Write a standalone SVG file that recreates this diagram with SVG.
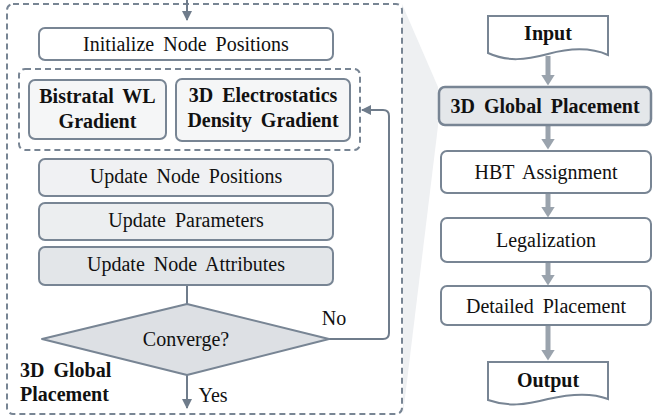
<svg xmlns="http://www.w3.org/2000/svg" width="653" height="420" viewBox="0 0 653 420">
<defs>
<style>
text{font-family:'Liberation Serif','Times New Roman',serif;font-size:20px;fill:#111;text-anchor:middle;word-spacing:4px}
.b{font-weight:bold}
.box{stroke:#788594;stroke-width:2}
.dash{fill:none;stroke:#788594;stroke-width:2;stroke-dasharray:6 4}
.thin{fill:none;stroke:#6f7c8b;stroke-width:2}
.thick{fill:none;stroke:#9aa3ad;stroke-width:5}
</style>
<marker id="ah" viewBox="0 0 10 10" refX="9" refY="5" markerWidth="5" markerHeight="5" orient="auto" markerUnits="strokeWidth"><path d="M0,0 L10,5 L0,10 z" fill="#6f7c8b"/></marker>
<marker id="ahb" viewBox="0 0 11 14" refX="0.5" refY="7" markerWidth="11" markerHeight="14" orient="auto" markerUnits="userSpaceOnUse"><path d="M0,0 L11,7 L0,14 z" fill="#9aa3ad"/></marker>
</defs>
<polygon points="402,4 438,87 438,126 403,414" fill="#eef0f2"/>
<g id="outer-box"><rect class="dash" x="7" y="4" width="395" height="410" rx="6"/></g>
<g id="gradient-group"><rect class="dash" x="19" y="69" width="341" height="81" rx="6"/></g>
<g id="connectors">
<line class="thin" x1="187" y1="0" x2="187" y2="20" marker-end="url(#ah)"/>
<line class="thin" x1="187" y1="285" x2="187" y2="304"/>
<line class="thin" x1="187" y1="375" x2="187" y2="408" marker-end="url(#ah)"/>
<path class="thin" d="M329,339 H383 Q389,339 389,333 V116 Q389,110 383,110 H362" marker-end="url(#ah)"/>
<line class="thick" x1="548" y1="56" x2="548" y2="75" marker-end="url(#ahb)"/>
<line class="thick" x1="548" y1="126" x2="548" y2="139" marker-end="url(#ahb)"/>
<line class="thick" x1="548" y1="193" x2="548" y2="207" marker-end="url(#ahb)"/>
<line class="thick" x1="548" y1="262" x2="548" y2="275" marker-end="url(#ahb)"/>
<line class="thick" x1="548" y1="325" x2="548" y2="350" marker-end="url(#ahb)"/>
</g>
<g id="init"><rect class="box" x="39" y="28" width="294" height="32" rx="6" fill="#ffffff"/><text x="186" y="51">Initialize Node Positions</text></g>
<g id="bistratal"><rect class="box" x="29" y="80" width="137" height="59" rx="6" fill="#f5f6f7"/><text class="b" x="97.5" y="103">Bistratal WL</text><text class="b" x="97.5" y="128">Gradient</text></g>
<g id="electro"><rect class="box" x="176" y="79" width="174" height="62" rx="6" fill="#f5f6f7"/><text class="b" x="263" y="102">3D Electrostatics</text><text class="b" x="263" y="127">Density Gradient</text></g>
<g id="upd-pos"><rect class="box" x="39" y="159" width="294" height="37" rx="6" fill="#f0f1f3"/><text x="186" y="183">Update Node Positions</text></g>
<g id="upd-par"><rect class="box" x="39" y="203" width="294" height="37" rx="6" fill="#eceef0"/><text x="186" y="227">Update Parameters</text></g>
<g id="upd-attr"><rect class="box" x="39" y="247" width="294" height="38" rx="6" fill="#e3e6e9"/><text x="186" y="271">Update Node Attributes</text></g>
<g id="converge"><polygon class="box" points="42,339 187,304 329,339 187,375" fill="#dde0e4" stroke-linejoin="round"/><text x="186" y="346">Converge?</text></g>
<text x="334" y="325">No</text>
<text x="213" y="402">Yes</text>
<text class="b" x="20" y="377" style="text-anchor:start">3D Global</text>
<text class="b" x="20" y="401" style="text-anchor:start">Placement</text>
<g id="input"><path class="box" d="M488,16 H608 V55 C590,47 570,48 548,54 C525,60 508,62 488,53 Z" fill="#ffffff"/><text class="b" x="548" y="40">Input</text></g>
<g id="gp"><rect x="439" y="87" width="212" height="38" rx="6" fill="#e4e7ea" stroke="#788594" stroke-width="2.5"/><text class="b" x="545" y="113">3D Global Placement</text></g>
<g id="hbt"><rect class="box" x="441" y="151" width="210" height="42" rx="6" fill="#ffffff"/><text x="546" y="179">HBT Assignment</text></g>
<g id="legal"><rect class="box" x="441" y="218" width="210" height="44" rx="6" fill="#ffffff"/><text x="546" y="247">Legalization</text></g>
<g id="detailed"><rect class="box" x="441" y="286" width="210" height="39" rx="6" fill="#ffffff"/><text x="546" y="313">Detailed Placement</text></g>
<g id="output"><path class="box" d="M488,362 H608 V399 C590,392 570,394 548,399 C525,405 508,407 488,400 Z" fill="#ffffff"/><text class="b" x="548" y="387">Output</text></g>
</svg>
